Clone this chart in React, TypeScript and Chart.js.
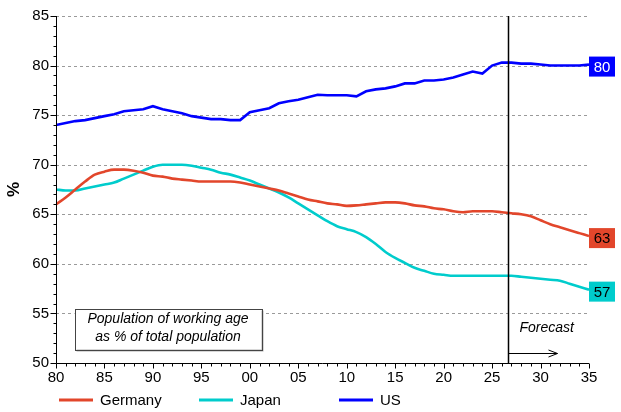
import { useEffect, useRef } from "react";
import { Chart, registerables } from "chart.js";

Chart.register(...registerables);

const years = [
  1980, 1981, 1982, 1983, 1984, 1985, 1986, 1987, 1988, 1989,
  1990, 1991, 1992, 1993, 1994, 1995, 1996, 1997, 1998, 1999,
  2000, 2001, 2002, 2003, 2004, 2005, 2006, 2007, 2008, 2009,
  2010, 2011, 2012, 2013, 2014, 2015, 2016, 2017, 2018, 2019,
  2020, 2021, 2022, 2023, 2024, 2025, 2026, 2027, 2028, 2029,
  2030, 2031, 2032, 2033, 2034, 2035,
];

const germany = [
  66.0, 66.7, 67.5, 68.3, 69.0, 69.3, 69.5, 69.5, 69.4, 69.2,
  68.9, 68.8, 68.6, 68.5, 68.4, 68.3, 68.3, 68.3, 68.3, 68.2,
  68.0, 67.8, 67.6, 67.4, 67.1, 66.8, 66.5, 66.3, 66.1, 66.0,
  65.85, 65.9, 66.0, 66.1, 66.2, 66.2, 66.1, 65.9, 65.8, 65.6,
  65.5, 65.3, 65.2, 65.3, 65.3, 65.3, 65.2, 65.1, 65.0, 64.8,
  64.4, 64.0, 63.7, 63.4, 63.1, 62.8,
];

const japan = [
  67.5, 67.4, 67.4, 67.6, 67.8, 68.0, 68.2, 68.6, 69.0, 69.4,
  69.8, 70.0, 70.0, 70.0, 69.9, 69.7, 69.5, 69.2, 69.0, 68.7,
  68.4, 68.0, 67.6, 67.2, 66.7, 66.1, 65.5, 64.9, 64.3, 63.8,
  63.5, 63.2, 62.7, 62.0, 61.2, 60.6, 60.1, 59.6, 59.3, 59.0,
  58.9, 58.8, 58.8, 58.8, 58.8, 58.8, 58.8, 58.8, 58.7, 58.6,
  58.5, 58.4, 58.3, 58.0, 57.7, 57.4,
];

const us = [
  74.0, 74.2, 74.4, 74.5, 74.7, 74.9, 75.1, 75.4, 75.5, 75.6,
  75.9, 75.6, 75.4, 75.2, 74.9, 74.75, 74.6, 74.6, 74.5, 74.5,
  75.3, 75.5, 75.7, 76.2, 76.4, 76.55, 76.8, 77.05, 77.0, 77.0,
  77.0, 76.9, 77.4, 77.6, 77.7, 77.9, 78.2, 78.2, 78.5, 78.5,
  78.6, 78.8, 79.1, 79.4, 79.2, 80.0, 80.3, 80.3, 80.2, 80.2,
  80.1, 80.0, 80.0, 80.0, 80.0, 80.1,
];

const seriesNames = ["Germany", "Japan", "US"];
const seriesColors = ["#e2462b", "#00cccc", "#0000ff"];
const endLabels = ["63", "57", "80"];
const endLabelText = ["#000000", "#000000", "#ffffff"];
const forecastStart = 2026.6;
const boxLines = ["Population of working age", "as % of total population"];

const FONT = "'Liberation Sans', Arial, sans-serif";

const overlayPlugin = {
  id: "overlay",
  beforeDatasetsDraw(chart: any) {
    const { ctx, chartArea } = chart;
    const y = chart.scales.y;
    ctx.save();
    ctx.strokeStyle = "#9a9a9a";
    ctx.lineWidth = 1;
    ctx.setLineDash([3, 3]);
    for (let v = 55; v <= 85; v += 5) {
      const py = Math.round(y.getPixelForValue(v)) + 0.5;
      ctx.beginPath();
      ctx.moveTo(chartArea.left, py);
      ctx.lineTo(chartArea.right, py);
      ctx.stroke();
    }
    ctx.restore();
  },
  afterDatasetsDraw(chart: any) {
    const { ctx, chartArea } = chart;
    const x = chart.scales.x;
    const y = chart.scales.y;
    const left = Math.round(chartArea.left) + 0.5;
    const bottom = Math.round(chartArea.bottom) + 0.5;
    ctx.save();

    // axes
    ctx.strokeStyle = "#000";
    ctx.lineWidth = 1;
    ctx.beginPath();
    ctx.moveTo(left, chartArea.top);
    ctx.lineTo(left, bottom);
    ctx.lineTo(chartArea.right, bottom);
    ctx.stroke();

    // y ticks: major every 5, minor every 1
    for (let v = 50; v <= 85; v += 1) {
      const py = Math.round(y.getPixelForValue(v)) + 0.5;
      const len = v % 5 === 0 ? 6 : 3;
      ctx.beginPath();
      ctx.moveTo(left - len, py);
      ctx.lineTo(left, py);
      ctx.stroke();
    }
    // x ticks: major every 5 years, minor every year
    years.forEach((yr) => {
      const px = Math.round(x.getPixelForValue(yr)) + 0.5;
      const len = yr % 5 === 0 ? 5 : 3;
      ctx.beginPath();
      ctx.moveTo(px, bottom);
      ctx.lineTo(px, bottom + len);
      ctx.stroke();
    });

    // forecast line
    const fx = Math.round(x.getPixelForValue(forecastStart)) + 0.5;
    ctx.lineWidth = 1.5;
    ctx.beginPath();
    ctx.moveTo(fx, chartArea.top);
    ctx.lineTo(fx, bottom);
    ctx.stroke();

    // forecast arrow
    ctx.lineWidth = 1;
    const ay = bottom - 10;
    const ax2 = fx + 49;
    ctx.beginPath();
    ctx.moveTo(fx, ay);
    ctx.lineTo(ax2, ay);
    ctx.moveTo(ax2 - 9, ay - 3.5);
    ctx.lineTo(ax2, ay);
    ctx.lineTo(ax2 - 9, ay + 3.5);
    ctx.stroke();

    ctx.fillStyle = "#000";
    ctx.font = `italic 14px ${FONT}`;
    ctx.textAlign = "left";
    ctx.textBaseline = "middle";
    ctx.fillText("Forecast", fx + 11, ay - 25);

    // text box
    const bx = left + 18;
    const by = bottom - 55;
    const bw = 187;
    const bh = 41;
    ctx.fillStyle = "#b0b0b0";
    ctx.fillRect(bx + 2, by + 2, bw, bh);
    ctx.fillStyle = "#fff";
    ctx.fillRect(bx, by, bw, bh);
    ctx.strokeStyle = "#444";
    ctx.strokeRect(Math.round(bx) + 0.5, Math.round(by) + 0.5, bw, bh);
    ctx.fillStyle = "#000";
    ctx.font = `italic 14px ${FONT}`;
    ctx.textAlign = "center";
    ctx.fillText(boxLines[0], bx + bw / 2, by + 11);
    ctx.fillText(boxLines[1], bx + bw / 2, by + 29);

    // end labels
    const seriesData = [germany, japan, us];
    ctx.font = `15px ${FONT}`;
    seriesData.forEach((d, i) => {
      const py = y.getPixelForValue(d[d.length - 1]) + 2;
      ctx.fillStyle = seriesColors[i];
      ctx.fillRect(chartArea.right, py - 10, 26, 20);
      ctx.fillStyle = endLabelText[i];
      ctx.textAlign = "center";
      ctx.fillText(endLabels[i], chartArea.right + 13, py + 1);
    });

    // y axis title
    ctx.save();
    ctx.translate(14, (chartArea.top + chartArea.bottom) / 2);
    ctx.rotate(-Math.PI / 2);
    ctx.font = `bold 17px ${FONT}`;
    ctx.fillStyle = "#000";
    ctx.textAlign = "center";
    ctx.fillText("%", 0, 0);
    ctx.restore();

    // legend
    const legendX = [59, 199, 339];
    const legendY = 400;
    ctx.font = `15px ${FONT}`;
    ctx.textAlign = "left";
    seriesNames.forEach((name, i) => {
      ctx.strokeStyle = seriesColors[i];
      ctx.lineWidth = 3;
      ctx.beginPath();
      ctx.moveTo(legendX[i], legendY);
      ctx.lineTo(legendX[i] + 34, legendY);
      ctx.stroke();
      ctx.fillStyle = "#000";
      ctx.fillText(name, legendX[i] + 41, legendY + 1);
    });

    ctx.restore();
  },
};

export default function App() {
  const canvasRef = useRef<HTMLCanvasElement>(null);
  const chartRef = useRef<Chart | null>(null);

  useEffect(() => {
    document.body.style.margin = "0";
    if (!canvasRef.current) return;
    if (chartRef.current) chartRef.current.destroy();

    const seriesData = [germany, japan, us];
    chartRef.current = new Chart(canvasRef.current, {
      type: "line",
      data: {
        datasets: seriesData.map((d, i) => ({
          label: seriesNames[i],
          data: d.map((v, j) => ({ x: years[j], y: v })),
          borderColor: seriesColors[i],
          borderWidth: 2.6,
          pointRadius: 0,
          fill: false,
          cubicInterpolationMode: i === 2 ? "default" : "monotone",
          tension: i === 2 ? 0 : 0.4,
        })),
      },
      options: {
        animation: false,
        responsive: true,
        maintainAspectRatio: false,
        layout: { padding: { left: 0, right: 32, top: 13, bottom: 0 } },
        plugins: {
          legend: { display: false },
          tooltip: { enabled: false },
        },
        scales: {
          x: {
            type: "linear",
            min: 1980,
            max: 2035,
            grid: { display: false, drawTicks: false },
            border: { display: false },
            afterFit: (s: any) => {
              s.height = 49;
            },
            ticks: {
              stepSize: 5,
              padding: 6,
              color: "#000",
              maxRotation: 0,
              font: { family: FONT, size: 15 },
              callback: (v: any) => String(Number(v) % 100).padStart(2, "0"),
            },
          },
          y: {
            min: 50,
            max: 85,
            grid: { display: false, drawTicks: false },
            border: { display: false },
            afterFit: (s: any) => {
              s.width = 56;
            },
            ticks: {
              stepSize: 5,
              padding: 7,
              color: "#000",
              font: { family: FONT, size: 15 },
            },
          },
        },
      },
      plugins: [overlayPlugin],
    });

    return () => {
      if (chartRef.current) {
        chartRef.current.destroy();
        chartRef.current = null;
      }
    };
  }, []);

  return (
    <div style={{ width: 621, height: 412, position: "relative" }}>
      <canvas ref={canvasRef} />
    </div>
  );
}
